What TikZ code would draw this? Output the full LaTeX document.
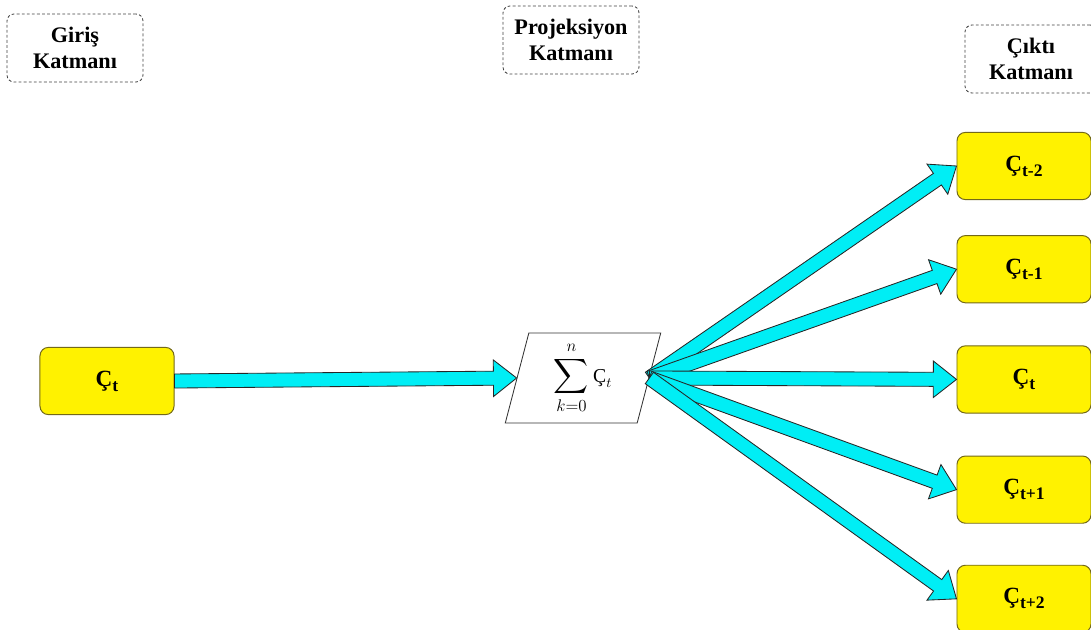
\documentclass[tikz,border=0pt]{standalone}
\usepackage{amsmath}
\usepackage{fontspec}
\setmainfont{Liberation Serif}
\usetikzlibrary{shapes.geometric,positioning,calc}

\definecolor{boxedge}{RGB}{115,105,25}
\definecolor{arrowcyan}{RGB}{0,238,245}

% block arrow from #1 to #2
\newcommand{\blockarrow}[2]{%
  \coordinate (hb) at ($(#2)!16.5pt!(#1)$);
  \filldraw[blockarrow] ($(#1)!5pt!90:(#2)$) -- ($(hb)!5pt!90:(#2)$)
    -- ($(hb)!13pt!90:(#2)$) -- (#2) -- ($(hb)!13pt!-90:(#2)$)
    -- ($(hb)!5pt!-90:(#2)$) -- ($(#1)!5pt!-90:(#2)$) -- cycle;
}
% word label with index
\newcommand{\wlabel}[1]{Ç\raisebox{-3.5pt}{\fontsize{12.5}{13}\selectfont #1}}

\begin{document}
\begin{tikzpicture}[x=0.025cm, y=-0.025cm,
    layer/.style={rectangle, rounded corners=5pt, draw=black!75, line width=0.6pt,
      dash pattern=on 2pt off 1.6pt, minimum width=3.4cm, minimum height=1.7cm,
      align=center, font=\fontsize{15.8}{18.6}\selectfont\bfseries},
    word/.style={rectangle, rounded corners=6pt, draw=boxedge, line width=0.7pt,
      fill=yellow, minimum width=3.35cm, minimum height=1.68cm,
      font=\fontsize{16.5}{18}\selectfont\bfseries},
    blockarrow/.style={fill=arrowcyan, draw=black!85, line width=0.6pt, line join=miter}
  ]
    \useasboundingbox (0,0) rectangle (1091,630);

    % layer titles
    \node[layer] (ginput) at (75,48) {Giriş\\Katmanı};
    \node[layer] (gproj) at (571,40) {Projeksiyon\\Katmanı};
    \node[layer, minimum width=3.3cm] (goutput) at (1031,59) {Çıktı\\Katmanı};

    % input
    \node[word] (input) at (107,381) {\wlabel{t}};

    % projection
    \node[trapezium, trapezium left angle=80, trapezium right angle=100,
      trapezium stretches=true, draw=black!80, line width=0.6pt,
      minimum width=3.9cm, minimum height=2.25cm, inner sep=0pt] (proj) at (583,378)
      {\fontsize{17.5}{18}\selectfont$\displaystyle\sum_{k=0}^{n}$\,{\fontsize{14}{15}\selectfont$\text{Ç}_{t}$}};

    % outputs
    \node[word] (prev2) at (1024,166) {\wlabel{t-2}};
    \node[word, below=0.875cm of prev2] (prev1) {\wlabel{t-1}};
    \node[word, below=1.05cm of prev1] (cur) {\wlabel{t}};
    \node[word, below=1.05cm of cur] (next1) {\wlabel{t+1}};
    \node[word, below=1.025cm of next1] (next2) {\wlabel{t+2}};

    \blockarrow{input.east}{proj.west}
    \blockarrow{proj.east}{prev2.west}
    \blockarrow{proj.east}{prev1.west}
    \blockarrow{proj.east}{cur.west}
    \blockarrow{proj.east}{next1.west}
    \blockarrow{proj.east}{next2.west}
  \end{tikzpicture}
\end{document}
